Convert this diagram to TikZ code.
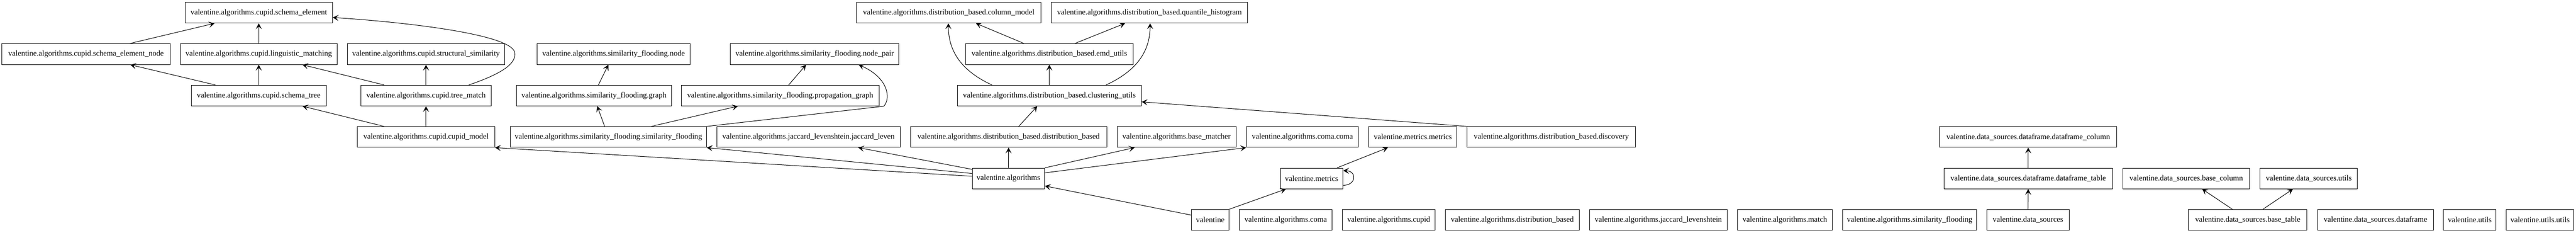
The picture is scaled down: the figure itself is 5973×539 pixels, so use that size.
\documentclass[tikz,border=0pt]{standalone}
\usepackage{fontspec}
\setmainfont{Liberation Serif}
\usetikzlibrary{arrows.meta,calc}
\begin{document}
\begin{tikzpicture}[x=0.75pt,y=-0.75pt,
  box/.style={draw=black,line width=0.9pt,rectangle,minimum height=36pt,inner xsep=0pt,inner ysep=0pt,font=\fontsize{13.5}{16}\selectfont,anchor=center},
  w/.style={minimum width=#1*0.75pt},
  edge/.style={draw=black,line width=0.9pt,-{Stealth[length=10pt,width=10.5pt,inset=4.5pt]}}]
\useasboundingbox (0,0) rectangle (5973,539);
% row 1
\node[box,w=342] (se) at (600,29.5) {valentine.algorithms.cupid.schema\_element};
\node[box,w=427] (colm) at (2199.9,29.5) {valentine.algorithms.distribution\_based.column\_model};
\node[box,w=456] (qh) at (2665.2,29.5) {valentine.algorithms.distribution\_based.quantile\_histogram};
% row 2
\node[box,w=390] (sen) at (199.5,125.5) {valentine.algorithms.cupid.schema\_element\_node};
\node[box,w=363] (lm) at (600,125.5) {valentine.algorithms.cupid.linguistic\_matching};
\node[box,w=365] (ss) at (987.8,125.5) {valentine.algorithms.cupid.structural\_similarity};
\node[box,w=354] (sfn) at (1422.7,125.5) {valentine.algorithms.similarity\_flooding.node};
\node[box,w=391] (np) at (1889,125.5) {valentine.algorithms.similarity\_flooding.node\_pair};
\node[box,w=388] (emd) at (2433.1,125.5) {valentine.algorithms.distribution\_based.emd\_utils};
% row 3
\node[box,w=313] (st) at (599.8,221.5) {valentine.algorithms.cupid.schema\_tree};
\node[box,w=303] (tm) at (987.8,221.5) {valentine.algorithms.cupid.tree\_match};
\node[box,w=359] (sfg) at (1377.2,221.5) {valentine.algorithms.similarity\_flooding.graph};
\node[box,w=458] (pg) at (1809,221.5) {valentine.algorithms.similarity\_flooding.propagation\_graph};
\node[box,w=427] (cu) at (2433.1,221.5) {valentine.algorithms.distribution\_based.clustering\_utils};
% row 4
\node[box,w=319] (cmod) at (987.8,317.5) {valentine.algorithms.cupid.cupid\_model};
\node[box,w=455] (sfsf) at (1410.7,317.5) {valentine.algorithms.similarity\_flooding.similarity\_flooding};
\node[box,w=425.5] (jl) at (1874.6,317.5) {valentine.algorithms.jaccard\_levenshtein.jaccard\_leven};
\node[box,w=455] (db) at (2338.6,317.5) {valentine.algorithms.distribution\_based.distribution\_based};
\node[box,w=276] (bm) at (2728,317.5) {valentine.algorithms.base\_matcher};
\node[box,w=260] (coma) at (3019.9,317.5) {valentine.algorithms.coma.coma};
\node[box,w=204.4] (mm) at (3275.9,317.5) {valentine.metrics.metrics};
\node[box,w=390] (disc) at (3597.1,317.5) {valentine.algorithms.distribution\_based.discovery};
\node[box,w=411] (dfc) at (4702.8,317.5) {valentine.data\_sources.dataframe.dataframe\_column};
% row 5
\node[box,w=168] (alg) at (2338.2,413.5) {valentine.algorithms};
\node[box,w=145.4] (met) at (3041.3,413.5) {valentine.metrics};
\node[box,w=391] (dft) at (4702.8,413.5) {valentine.data\_sources.dataframe.dataframe\_table};
\node[box,w=295] (bc) at (5069.2,413.5) {valentine.data\_sources.base\_column};
\node[box,w=226] (dsu) at (5353.4,413.5) {valentine.data\_sources.utils};
% row 6
\node[box,w=86.8] (val) at (2806.2,509.5) {valentine};
\node[box,w=215] (acoma) at (2981.2,509.5) {valentine.algorithms.coma};
\node[box,w=215] (acupid) at (3220,509.5) {valentine.algorithms.cupid};
\node[box,w=311.5] (adb) at (3506.6,509.5) {valentine.algorithms.distribution\_based};
\node[box,w=319.6] (ajl) at (3845.1,509.5) {valentine.algorithms.jaccard\_levenshtein};
\node[box,w=219] (amatch) at (4138.6,509.5) {valentine.algorithms.match};
\node[box,w=311] (asf) at (4427.9,509.5) {valentine.algorithms.similarity\_flooding};
\node[box,w=191] (ds) at (4702.3,509.5) {valentine.data\_sources};
\node[box,w=274.7] (bt) at (5211.8,509.5) {valentine.data\_sources.base\_table};
\node[box,w=268.6] (df) at (5508,509.5) {valentine.data\_sources.dataframe};
\node[box,w=121.7] (vu) at (5726.6,509.5) {valentine.utils};
\node[box,w=157] (uu) at (5889.6,509.5) {valentine.utils.utils};
% edges: cupid
\draw[edge] ($(sen.north)+(100.9,0)$) -- ($(se.south)+(-102.5,0)$);
\draw[edge] (lm.north) -- (se.south);
\draw[edge] ($(tm.north)+(99.2,0)$) .. controls (1160,172) and (1200,148) .. (1193,120) .. controls (1180,80) and (950,52) .. ($(se.east)+(0,11.1)$);
\draw[edge] ($(st.north)+(-100.4,0)$) -- ($(sen.south)+(102.8,0)$);
\draw[edge] (st.north) -- (lm.south);
\draw[edge] ($(tm.north)+(-97,0)$) -- ($(lm.south)+(101.4,0)$);
\draw[edge] (tm.north) -- (ss.south);
\draw[edge] ($(cmod.north)+(-97,0)$) -- ($(st.south)+(101.6,0)$);
\draw[edge] (cmod.north) -- (tm.south);
% similarity flooding
\draw[edge] ($(sfg.north)+(10.3,0)$) -- ($(sfn.south)+(-12.2,0)$);
\draw[edge] ($(sfsf.north)+(-8.7,0)$) -- ($(sfg.south)+(7.6,0)$);
\draw[edge] ($(sfsf.north)+(99.3,0)$) -- ($(pg.south)+(-98.2,0)$);
\draw[edge] (sfsf.north east) -- ($(pg.south east)+(10.7,0)$) .. controls (2066,228) and (2060,180) .. ($(np.south)+(102,0)$);
\draw[edge] ($(pg.north)+(19.7,0)$) -- ($(np.south)+(-20.1,0)$);
% algorithms
\draw[edge] ($(alg.west)+(0,-5.1)$) -- (cmod.south east);
\draw[edge] ($(alg.west)+(0,-11.5)$) -- (sfsf.south east);
\draw[edge] ($(alg.north west)+(0,3.5)$) -- ($(jl.south)+(115.6,0)$);
\draw[edge] (alg.north) -- (db.south);
\draw[edge] (alg.north east) -- ($(bm.south)+(-97.3,0)$);
\draw[edge] ($(alg.east)+(0,-13)$) -- (coma.south west);
\draw[edge] ($(val.west)+(0,-11)$) -- ($(alg.east)+(0,17.5)$);
\draw[edge] (val.north east) -- ($(met.south)+(-59.6,0)$);
\draw[edge] ($(met.north)+(59,0)$) -- ($(mm.south)+(-57.8,0)$);
\draw[edge] ($(met.east)+(0,16)$) .. controls (3146,429) and (3146,396) .. ($(met.east)+(0,-18)$);
% distribution based
\draw[edge] (disc.north west) -- ($(cu.east)+(0,14.5)$);
\draw[edge] ($(db.north)+(23.4,0)$) -- ($(cu.south)+(-28,0)$);
\draw[edge] (cu.north) -- (emd.south);
\draw[edge] ($(cu.north)+(-133.1,0)$) .. controls (2220,160) and (2199,110) .. ($(colm.south)+(-0.9,0)$);
\draw[edge] ($(cu.north)+(131.4,0)$) .. controls (2645,160) and (2666.7,110) .. ($(qh.south)+(1.5,0)$);
\draw[edge] ($(emd.north)+(-58.3,0)$) -- ($(colm.south)+(63.1,0)$);
\draw[edge] ($(emd.north)+(58.7,0)$) -- ($(qh.south)+(-56.6,0)$);
% data sources
\draw[edge] (dft.north) -- (dfc.south);
\draw[edge] (ds.north) -- (dft.south);
\draw[edge] ($(bt.north)+(-35.6,0)$) -- ($(bc.south)+(36.9,0)$);
\draw[edge] ($(bt.north)+(35.2,0)$) -- ($(dsu.south)+(-36.8,0)$);
\end{tikzpicture}
\end{document}
